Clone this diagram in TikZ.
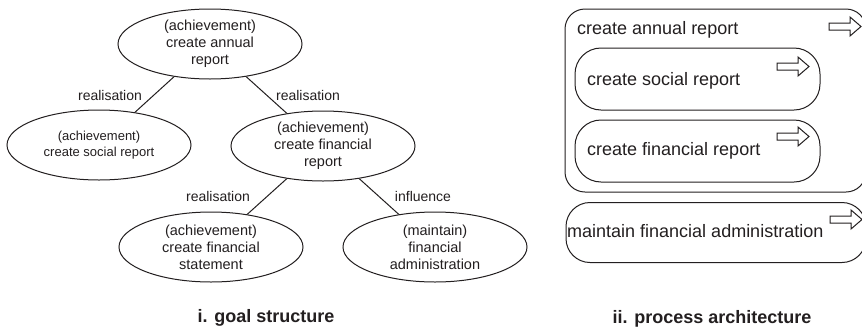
\documentclass[tikz,border=0pt]{standalone}
\usepackage{fontspec}
\setmainfont{Liberation Sans}
\usetikzlibrary{shapes.geometric}
\definecolor{ink}{HTML}{231F20}
\tikzset{
  goal/.style={ellipse, draw=ink, line width=1pt, minimum width=184pt, minimum height=70pt,
    inner sep=0pt, align=center, text=ink, font=\fontsize{14.5}{17}\selectfont},
  lbl/.style={inner sep=0pt, text=ink, font=\fontsize{14}{16}\selectfont},
  conn/.style={draw=ink, line width=1pt},
  procbox/.style={draw=ink, line width=1pt, rectangle, inner sep=0pt},
  proctext/.style={anchor=west, inner sep=0pt, text=ink, font=\fontsize{18}{21}\selectfont},
  title/.style={inner sep=0pt, text=ink, font=\bfseries\fontsize{18}{21}\selectfont},
  hollowarrow/.pic={\draw[ink, line width=1pt, line join=miter]
     (0,-3.5) -- (21,-3.5) -- (21,-9.5) -- (32,0) -- (21,9.5) -- (21,3.5) -- (0,3.5) -- cycle;}
}
\begin{document}
\begin{tikzpicture}[x=1pt,y=-1pt]
\clip (0,0) rectangle (862,330);
\fill[white] (0,0) rectangle (862,330);

% goal structure
\node[goal] (annual) at (210,44) {(achievement)\\create annual\\report};
\node[goal, font=\fontsize{13}{16}\selectfont] (social) at (99,145) {(achievement)\\create social report};
\node[goal] (finrep) at (323,146) {(achievement)\\create financial\\report};
\node[goal] (stmt) at (211,247) {(achievement)\\create financial\\statement};
\node[goal] (admin) at (435,247) {(maintain)\\financial\\administration};

\draw[conn] (annual) -- (social);
\draw[conn] (annual) -- (finrep);
\draw[conn] (finrep) -- (stmt);
\draw[conn] (finrep) -- (admin);

\node[lbl] (l1) at (110,95) {realisation};
\node[lbl] (l2) at (308,95) {realisation};
\node[lbl] (l3) at (218,196) {realisation};
\node[lbl] (l4) at (423,196) {influence};

\node[title] (t1) at (266,318) {i. goal structure};

% process architecture
\node[procbox, rounded corners=20pt, minimum width=301pt, minimum height=183pt] (outer) at (715.5,100.5) {};
\node[proctext] (outertext) at (577,30) {create annual report};
\pic at (829,26.5) {hollowarrow};

\node[procbox, rounded corners=26pt, minimum width=245pt, minimum height=62pt] (socbox) at (697.5,79) {};
\node[proctext] (soctext) at (587,81) {create social report};
\pic at (777,66.5) {hollowarrow};

\node[procbox, rounded corners=26pt, minimum width=245pt, minimum height=62pt] (finbox) at (697.5,151) {};
\node[proctext] (fintext) at (587,151) {create financial report};
\pic at (777,136.5) {hollowarrow};

\node[procbox, rounded corners=24pt, minimum width=300pt, minimum height=60pt] (adminbox) at (716,232.5) {};
\node[proctext] (admintext) at (567,231) {maintain financial administration};
\pic at (830,219.5) {hollowarrow};

\node[title] (t2) at (712,319) {ii. process architecture};
\end{tikzpicture}
\end{document}
